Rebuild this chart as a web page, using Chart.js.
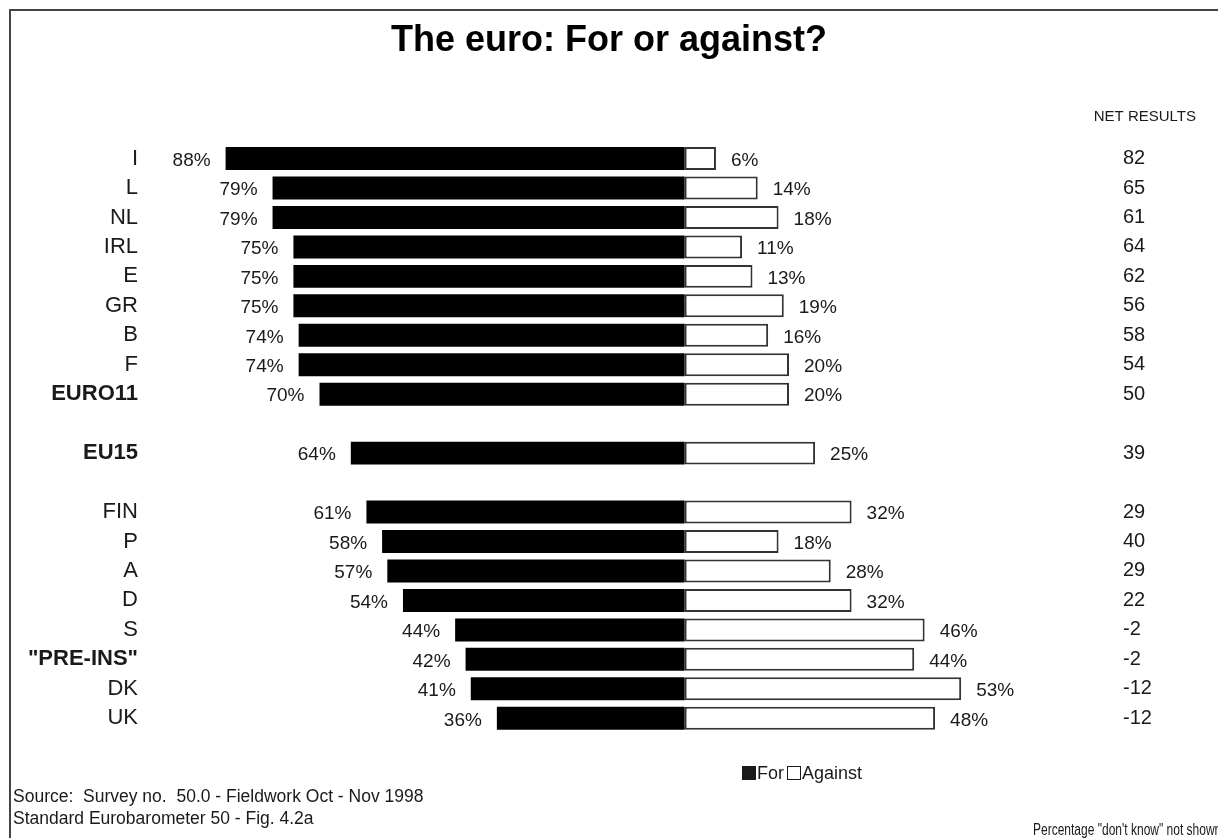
<!DOCTYPE html>
<html>
<head>
<meta charset="utf-8">
<title>The euro: For or against?</title>
<script src="https://cdn.jsdelivr.net/npm/chart.js@4.4.1/dist/chart.umd.min.js"></script>
<style>
  html, body { margin: 0; padding: 0; background: #fff; }
  canvas { display: block; }
</style>
</head>
<body>
<canvas id="diagram" width="1218" height="838"></canvas>
<script>
// rows, top to bottom; empty strings are spacer rows between the groups
const categories = ['I', 'L', 'NL', 'IRL', 'E', 'GR', 'B', 'F', 'EURO11', '', 'EU15', '',
    'FIN', 'P', 'A', 'D', 'S', '"PRE-INS"', 'DK', 'UK'];
const forValues = [88, 79, 79, 75, 75, 75, 74, 74, 70, null, 64, null, 61, 58, 57, 54, 44, 42, 41, 36];
const againstValues = [6, 14, 18, 11, 13, 19, 16, 20, 20, null, 25, null, 32, 18, 28, 32, 46, 44, 53, 48];
const netResults = [82, 65, 61, 64, 62, 56, 58, 54, 50, null, 39, null, 29, 40, 29, 22, -2, -2, -12, -12];
const boldRows = ['EURO11', 'EU15', '"PRE-INS"'];

const FONT = '"Liberation Sans", Arial, Helvetica, sans-serif';
const INK = '#1a1a1a';

// percentages beside the bars, legend, header and notes
const annotations = {
    id: 'annotations',
    afterDatasetsDraw(chart) {
        const ctx = chart.ctx;
        const metaFor = chart.getDatasetMeta(0);
        const metaAgainst = chart.getDatasetMeta(1);
        ctx.save();
        ctx.fillStyle = INK;
        ctx.textBaseline = 'middle';
        ctx.font = '19px ' + FONT;

        metaFor.data.forEach((bar, i) => {
            if (forValues[i] == null) return;
            ctx.textAlign = 'right';
            ctx.fillText(forValues[i] + '%', Math.min(bar.x, bar.base) - 15, bar.y + 2);
        });
        metaAgainst.data.forEach((bar, i) => {
            if (againstValues[i] == null) return;
            ctx.textAlign = 'left';
            ctx.fillText(againstValues[i] + '%', Math.max(bar.x, bar.base) + 15, bar.y + 2);
        });
        ctx.restore();
    },
    afterDraw(chart) {
        const ctx = chart.ctx;
        ctx.save();

        // frame
        ctx.strokeStyle = '#444';
        ctx.lineWidth = 2;
        ctx.beginPath();
        ctx.moveTo(10, 838);
        ctx.lineTo(10, 10);
        ctx.lineTo(1218, 10);
        ctx.stroke();

        ctx.fillStyle = INK;
        ctx.textBaseline = 'middle';
        ctx.textAlign = 'right';
        ctx.font = '15px ' + FONT;
        ctx.fillText('NET RESULTS', 1196, 117);

        // legend
        ctx.font = '18px ' + FONT;
        ctx.textAlign = 'left';
        ctx.fillRect(742, 766, 14, 14);
        ctx.fillText('For', 757, 774);
        ctx.fillStyle = '#fff';
        ctx.fillRect(787, 766, 14, 14);
        ctx.strokeStyle = INK;
        ctx.lineWidth = 1;
        ctx.strokeRect(787.5, 766.5, 13, 13);
        ctx.fillStyle = INK;
        ctx.fillText('Against', 802, 774);

        // notes
        ctx.font = '17.5px ' + FONT;
        ctx.fillText('Source:  Survey no.  50.0 - Fieldwork Oct - Nov 1998', 13, 797);
        ctx.fillText('Standard Eurobarometer 50 - Fig. 4.2a', 13, 819);
        ctx.font = '16px ' + FONT;
        ctx.translate(1033, 831);
        ctx.scale(0.75, 1);
        ctx.fillText('Percentage "don\'t know" not shown', 0, 0);
        ctx.restore();
    }
};

const chart = new Chart(document.getElementById('diagram').getContext('2d'), {
    type: 'bar',
    data: {
        labels: categories,
        datasets: [
            {
                label: 'For',
                data: forValues.map(v => (v == null ? null : -v)),
                backgroundColor: '#000',
                borderWidth: 0,
            },
            {
                label: 'Against',
                data: againstValues,
                backgroundColor: '#fff',
                borderColor: '#333',
                borderWidth: 2,
                borderSkipped: false,
            },
        ],
    },
    options: {
        indexAxis: 'y',
        responsive: false,
        animation: false,
        events: [],
        categoryPercentage: 1,
        barPercentage: 0.78,
        layout: { padding: { left: 0, right: 0, top: 0, bottom: 105 } },
        scales: {
            x: {
                display: false,
                stacked: true,
                min: -100,
                max: 80,
            },
            y: {
                stacked: true,
                grid: { display: false, drawTicks: false },
                border: { display: false },
                afterFit: axis => { axis.width = 163; },
                ticks: {
                    padding: 25,
                    color: INK,
                    autoSkip: false,
                    font: c => ({
                        family: FONT,
                        size: 22,
                        weight: boldRows.includes(categories[c.index]) ? 'bold' : 'normal',
                    }),
                },
            },
            // net results column
            y2: {
                type: 'category',
                position: 'right',
                offset: true,
                labels: netResults.map(v => (v == null ? '' : String(v))),
                grid: { display: false, drawTicks: false },
                border: { display: false },
                afterFit: axis => { axis.width = 116; },
                ticks: {
                    padding: 21,
                    crossAlign: 'near',
                    color: INK,
                    autoSkip: false,
                    font: { family: FONT, size: 20 },
                },
            },
        },
        plugins: {
            legend: { display: false },
            tooltip: { enabled: false },
            title: {
                display: true,
                text: 'The euro: For or against?',
                color: '#000',
                font: { family: FONT, size: 36, weight: 'bold', lineHeight: 1.2 },
                padding: { top: 19, bottom: 81.6 },
            },
        },
    },
    plugins: [annotations],
});
</script>
</body>
</html>
